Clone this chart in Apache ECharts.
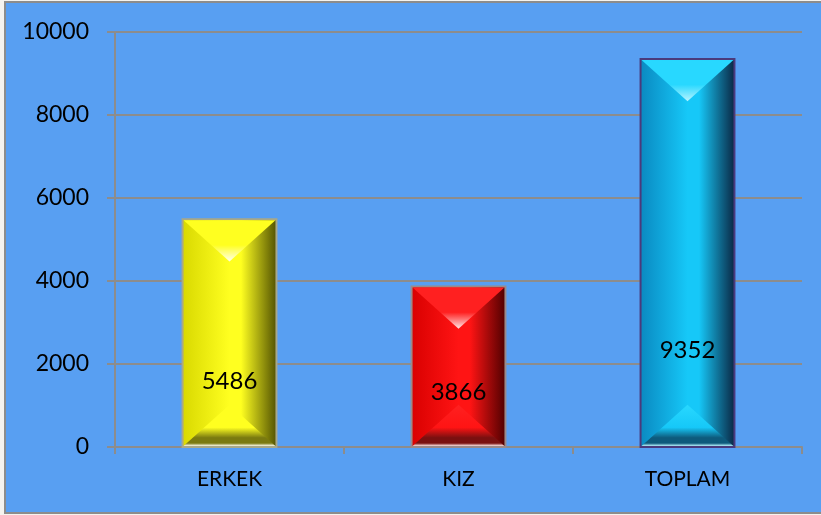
<!DOCTYPE html>
<html>
<head>
<meta charset="utf-8">
<script src="https://cdn.jsdelivr.net/npm/echarts@6/dist/echarts.min.js"></script>
<style>
  html, body { margin: 0; padding: 0; background: #f5f3ef; }
  #chart { width: 821px; height: 515px; }
</style>
</head>
<body>
<div id="chart"></div>
<script>
  const categories = ['ERKEK', 'KIZ', 'TOPLAM']
  const values = [5486, 3866, 9352]
  const yTicks = [0, 2000, 4000, 6000, 8000, 10000]

  // bar looks (colors + label height as fraction of the bar)
  const looks = [
    { left: '#d8d800', mid: '#ffff20', right: '#4e4e00', top: '#ffff20', glow: '#fffff0', foot: '#7a7a10', border: '#a8a888', labelAt: 0.29 },
    { left: '#d80000', mid: '#ff1414', right: '#4a0000', top: '#ff2020', glow: '#ffe8e8', foot: '#7a1010', border: '#9a8a8a', labelAt: 0.34 },
    { left: '#0a88c0', mid: '#16c8f8', right: '#0a2440', top: '#28d8ff', glow: '#b8f4ff', foot: '#0e5a7c', border: '#4a3a7c', labelAt: 0.25 },
  ]

  const chart = echarts.init(document.getElementById('chart'))

  function renderBar(params, api) {
    const idx = api.value(0)
    const val = api.value(1)
    const topPt = api.coord([idx, val])
    const basePt = api.coord([idx, 0])
    const w = api.size([1, 0])[0] * 0.41
    const x0 = topPt[0] - w / 2
    const y0 = topPt[1]
    const h = basePt[1] - topPt[1]
    const d = Math.min(w * 0.45, h / 2)
    const c = looks[idx]
    const G = echarts.graphic.LinearGradient
    return {
      type: 'group',
      children: [
        {
          type: 'rect',
          shape: { x: x0, y: y0, width: w, height: h },
          style: {
            fill: new G(0, 0, 1, 0, [
              { offset: 0, color: c.left },
              { offset: 0.5, color: c.mid },
              { offset: 0.62, color: c.mid },
              { offset: 1, color: c.right },
            ]),
            stroke: c.border,
            lineWidth: 2,
          },
        },
        {
          type: 'polygon',
          shape: { points: [[x0 + 1, y0 + 1], [x0 + w - 1, y0 + 1], [x0 + w / 2, y0 + d]] },
          style: {
            fill: new G(0, 0, 0, 1, [
              { offset: 0, color: c.top },
              { offset: 0.6, color: c.top },
              { offset: 1, color: c.glow },
            ]),
          },
        },
        {
          type: 'polygon',
          shape: { points: [[x0 + 1, y0 + h - 1], [x0 + w - 1, y0 + h - 1], [x0 + w / 2, y0 + h - d]] },
          style: {
            fill: new G(0, 0, 0, 1, [
              { offset: 0, color: c.top },
              { offset: 0.55, color: c.mid },
              { offset: 0.8, color: c.foot },
              { offset: 0.93, color: c.foot },
              { offset: 1, color: c.glow },
            ]),
          },
        },
        {
          type: 'text',
          style: {
            text: String(val),
            x: topPt[0],
            y: basePt[1] - h * c.labelAt,
            fill: '#000',
            font: '24px Lato',
            align: 'center',
            verticalAlign: 'middle',
            shadowColor: 'rgba(0,0,0,0.45)',
            shadowBlur: 2,
            shadowOffsetX: 1,
            shadowOffsetY: 1,
          },
        },
      ],
    }
  }

  chart.setOption({
    backgroundColor: '#f5f3ef',
    animation: false,
    graphic: [
      {
        type: 'rect',
        z: -10,
        shape: { x: 5, y: 2, width: 830, height: 511 },
        style: { fill: '#589ff2', stroke: '#8c8c8c', lineWidth: 2 },
      },
    ],
    grid: { left: 115, right: 19, top: 32, bottom: 68 },
    xAxis: {
      type: 'category',
      data: categories,
      axisLine: { lineStyle: { color: '#8c8c8c', width: 2 } },
      axisTick: { show: true, length: 7, lineStyle: { color: '#8c8c8c', width: 2 } },
      axisLabel: { color: '#000', fontFamily: 'Lato', fontSize: 21, margin: 22 },
    },
    yAxis: {
      type: 'value',
      min: yTicks[0],
      max: yTicks[yTicks.length - 1],
      interval: 2000,
      axisLine: { show: true, lineStyle: { color: '#8c8c8c', width: 2 } },
      axisTick: { show: true, length: 8, lineStyle: { color: '#8c8c8c', width: 2 } },
      splitLine: { lineStyle: { color: '#8c8c8c', width: 2 } },
      axisLabel: { color: '#000', fontFamily: 'Lato', fontSize: 23, margin: 26, formatter: (v) => String(v) },
    },
    series: [
      {
        type: 'custom',
        renderItem: renderBar,
        encode: { x: 0, y: 1 },
        data: categories.map((c, i) => [i, values[i]]),
      },
    ],
  })

  window.onresize = function () {
    chart.resize()
  }
</script>
</body>
</html>
